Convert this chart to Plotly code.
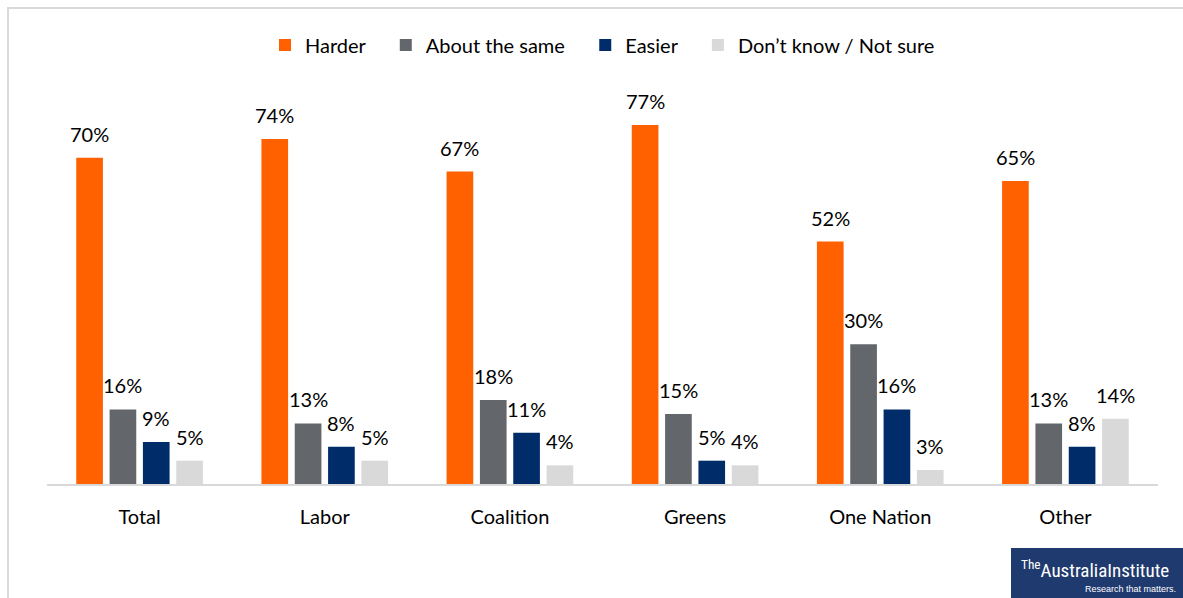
import plotly.graph_objects as go

categories = ["Total", "Labor", "Coalition", "Greens", "One Nation", "Other"]
series_names = ["Harder", "About the same", "Easier", "Don\u2019t know / Not sure"]
harder = [70, 74, 67, 77, 52, 65]
same = [16, 13, 18, 15, 30, 13]
easier = [9, 8, 11, 5, 16, 8]
dont_know = [5, 5, 4, 4, 3, 14]
colors = ["#FF6000", "#63666A", "#002D6A", "#D9D9D9"]

FONT = "Lato, 'Open Sans', sans-serif"
PAD = "\u00a0\u00a0\u00a0"

W, H = 1183, 598
L, R, T, B = 47, 25, 111, 114
pw, ph = W - L - R, H - T - B

def px(x):
    return (x - L) / pw

def py(y):
    return (H - B - y) / ph

fig = go.Figure()
annotations = []
all_series = [harder, same, easier, dont_know]
slot = pw / len(categories) * (1 - 0.28) / len(all_series)
for i, (name, vals, col) in enumerate(zip(series_names, all_series, colors)):
    fig.add_trace(go.Bar(
        name=name + (PAD if i < len(series_names) - 1 else ""),
        x=categories, y=vals, marker_color=col,
        marker_line_width=0,
    ))
    for c, v in zip(categories, vals):
        annotations.append(dict(
            x=c, y=v, xref="x", yref="y", text=f"{v}%", showarrow=False,
            xshift=(i - 1.5) * slot, yshift=10, yanchor="bottom",
            font=dict(size=20, color="#000000", family=FONT),
        ))

annotations += [
    dict(xref="paper", yref="paper", x=px(1095), y=py(569), text="<sup>The</sup>AustraliaInstitute",
         showarrow=False, font=dict(size=19, color="white", family="'Liberation Sans Narrow', 'Roboto Condensed', sans-serif"),
         xanchor="center", yanchor="middle"),
    dict(xref="paper", yref="paper", x=px(1178), y=py(589), text="Research that matters.",
         showarrow=False, font=dict(size=9, color="white", family="'Liberation Sans Narrow', sans-serif"),
         xanchor="right", yanchor="middle"),
]

fig.update_layout(
    width=W, height=H,
    margin=dict(l=L, r=R, t=T, b=B),
    paper_bgcolor="white", plot_bgcolor="white",
    barmode="group", bargap=0.28, bargroupgap=0.2,
    font=dict(family=FONT, color="#000000"),
    showlegend=True,
    legend=dict(orientation="h", x=0.5, xanchor="center", y=py(45), yanchor="middle",
                font=dict(size=20, family=FONT), traceorder="normal",
                itemwidth=30, itemsizing="constant"),
    xaxis=dict(showline=True, linecolor="#D9D9D9", linewidth=2, ticks="",
               tickfont=dict(size=20, family=FONT), showgrid=False, ticklabelstandoff=14),
    yaxis=dict(range=[0, 80], visible=False, showgrid=False),
    shapes=[
        dict(type="line", xref="paper", yref="paper", x0=px(7), x1=px(1183), y0=py(8), y1=py(8),
             line=dict(color="#D9D9D9", width=2)),
        dict(type="line", xref="paper", yref="paper", x0=px(8), x1=px(8), y0=py(8), y1=py(598),
             line=dict(color="#D9D9D9", width=2)),
        dict(type="rect", xref="paper", yref="paper", x0=px(1011), x1=px(1183), y0=py(548), y1=py(598),
             fillcolor="#1F3A6E", line=dict(width=0)),
    ],
    annotations=annotations,
)

fig.write_html("out.html", config={"displayModeBar": False},
               post_script="document.body.style.margin='0';document.body.style.overflow='hidden';")
